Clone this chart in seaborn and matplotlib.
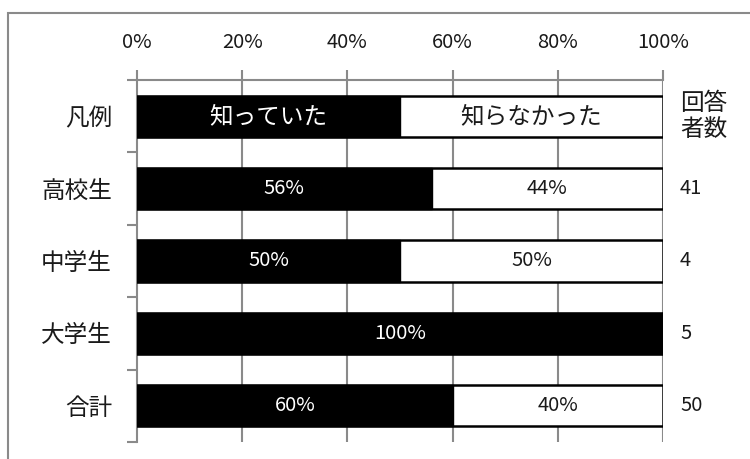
import matplotlib
matplotlib.use("Agg")
import matplotlib.pyplot as plt
import seaborn as sns
import pandas as pd
from matplotlib.patches import Rectangle
from matplotlib.transforms import blended_transform_factory

categories = ["凡例", "高校生", "中学生", "大学生", "合計"]
knew = [50, 56, 50, 100, 60]
not_knew = [50, 44, 50, 0, 40]
respondents = ["", "41", "4", "5", "50"]
legend_labels = ["知っていた", "知らなかった"]
x_ticks = [0, 20, 40, 60, 80, 100]

sns.set_theme(style="white")
plt.rcParams["font.family"] = ["Noto Sans CJK JP", "DejaVu Sans"]

TXT = "#1a1a1a"
GRID = "#8a8a8a"
FS = 14.5    # digits / percentages
FSJ = 17     # Japanese text

df = pd.DataFrame({"cat": categories, "knew": knew,
                   "total": [a + b for a, b in zip(knew, not_knew)]})

fig = plt.figure(figsize=(7.5, 4.59), dpi=100)
ax = fig.add_axes([137/750, 1-442/459, (663-137)/750, (442-80)/459])

sns.barplot(data=df, x="total", y="cat", orient="h", color="white",
            edgecolor="black", linewidth=1.8, width=0.57, ax=ax, zorder=3,
            saturation=1)
sns.barplot(data=df, x="knew", y="cat", orient="h", color="black",
            edgecolor="black", linewidth=1.0, width=0.57, ax=ax, zorder=4,
            saturation=1)

ax.set_xlim(0, 100)
ax.set_ylim(4.5, -0.5)
ax.set_xlabel("")
ax.set_ylabel("")

# grid lines
for xv in x_ticks[1:]:
    ax.axvline(xv, color=GRID, lw=1.5, zorder=1)

ax.xaxis.tick_top()
ax.set_xticks(x_ticks)
ax.set_xticklabels([f"{v}%" for v in x_ticks], fontsize=FS, color=TXT)
ax.tick_params(axis="x", which="major", length=7, width=1.5, color=GRID,
               pad=12.5, top=True, bottom=False)

ax.set_yticks(range(len(categories)))
ax.set_yticklabels(categories, fontsize=FSJ, color=TXT)
ax.tick_params(axis="y", which="major", length=0, pad=18)
ax.set_yticks([i - 0.5 for i in range(len(categories) + 1)], minor=True)
ax.tick_params(axis="y", which="minor", length=7, width=1.5, color=GRID,
               left=True)

for s in ["right", "bottom"]:
    ax.spines[s].set_visible(False)
for s in ["top", "left"]:
    ax.spines[s].set_color(GRID)
    ax.spines[s].set_linewidth(1.5)
ax.spines["top"].set_zorder(0.5)

# bar labels
for i, (k, n) in enumerate(zip(knew, not_knew)):
    if i == 0:
        ax.text(k / 2, i, legend_labels[0], ha="center", va="center",
                color="white", fontsize=FSJ, zorder=6)
        ax.text(k + n / 2, i, legend_labels[1], ha="center", va="center",
                color=TXT, fontsize=FSJ, zorder=6)
    else:
        if k > 0:
            ax.text(k / 2, i, f"{k}%", ha="center", va="center",
                    color="white", fontsize=FS, zorder=6)
        if n > 0:
            ax.text(k + n / 2, i, f"{n}%", ha="center", va="center",
                    color=TXT, fontsize=FS, zorder=6)

# respondent counts
tr = blended_transform_factory(ax.transAxes, ax.transData)
ax.text(1.0 + 17/526, 0, "回答\n者数", transform=tr, ha="left",
        va="center", fontsize=FSJ, color=TXT, linespacing=1.15)
for i, r in enumerate(respondents):
    if r:
        ax.text(1.0 + 17/526, i, r, transform=tr, ha="left", va="center",
                fontsize=FS, color=TXT)

# outer frame
fig.patches.append(Rectangle((8/750, -0.1), 1.2, 1 - 13/459 + 0.1,
                             transform=fig.transFigure, fill=False,
                             edgecolor="#8a8a8a", lw=1.5))

fig.savefig("out.png", dpi=100)
